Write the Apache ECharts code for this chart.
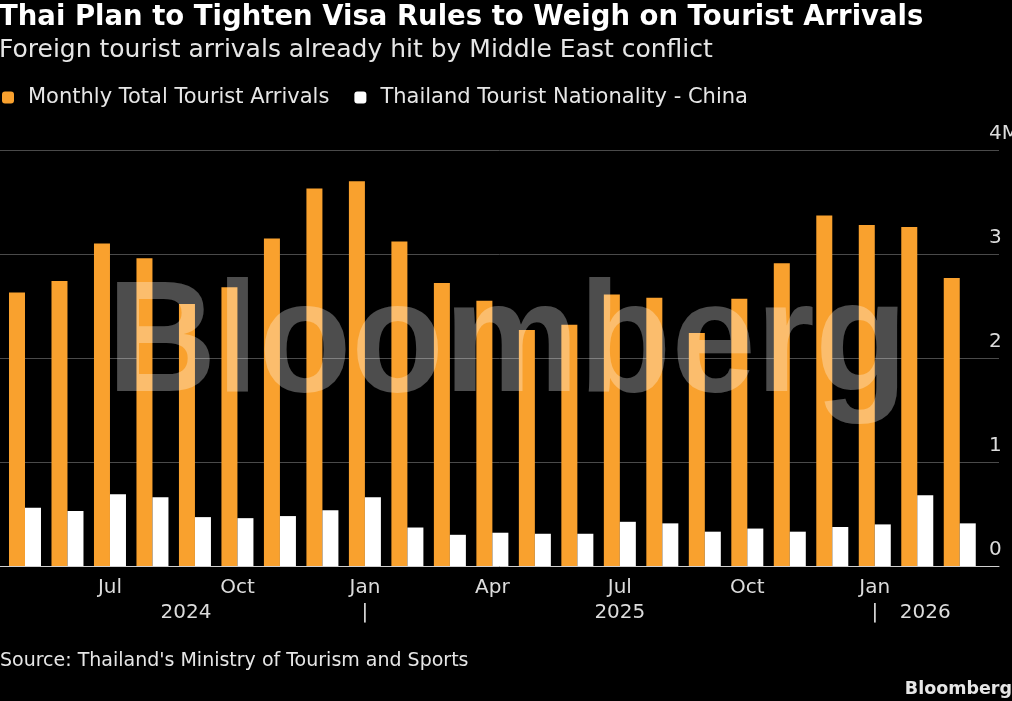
<!DOCTYPE html>
<html>
<head>
<meta charset="utf-8">
<style>
html, body { margin: 0; padding: 0; background: #000; }
#chart { width: 1012px; height: 701px; }
</style>
<script src="https://cdn.jsdelivr.net/npm/echarts@6/dist/echarts.min.js"></script>
</head>
<body>
<div id="chart"></div>
<script>
var FONT = "'DejaVu Sans', 'Liberation Sans', sans-serif";

var months = ['May 2024', 'Jun 2024', 'Jul 2024', 'Aug 2024', 'Sep 2024', 'Oct 2024', 'Nov 2024', 'Dec 2024',
    'Jan 2025', 'Feb 2025', 'Mar 2025', 'Apr 2025', 'May 2025', 'Jun 2025', 'Jul 2025', 'Aug 2025',
    'Sep 2025', 'Oct 2025', 'Nov 2025', 'Dec 2025', 'Jan 2026', 'Feb 2026', 'Mar 2026'];

// millions of arrivals
var totalArrivals = [2.63, 2.74, 3.10, 2.96, 2.52, 2.68, 3.15, 3.63, 3.70, 3.12, 2.72, 2.55,
    2.27, 2.32, 2.61, 2.58, 2.24, 2.57, 2.91, 3.37, 3.28, 3.26, 2.77];
var chinaArrivals = [0.56, 0.53, 0.69, 0.66, 0.47, 0.46, 0.48, 0.535, 0.66, 0.37, 0.30, 0.32,
    0.31, 0.31, 0.425, 0.41, 0.33, 0.36, 0.33, 0.375, 0.40, 0.68, 0.41];

var monthTickLabels = ['', '', 'Jul', '', '', 'Oct', '', '', 'Jan', '', '', 'Apr',
    '', '', 'Jul', '', '', 'Oct', '', '', 'Jan', '', ''];
var yearTickLabels = ['', '', '', '', '2024', '', '', '', '|', '', '', '',
    '', '', '2025', '', '', '', '', '', '|', '2026', ''];
var yTickLabels = ['0', '1', '2', '3', '4M'];

var seriesNames = ['Monthly Total Tourist Arrivals', 'Thailand Tourist Nationality - China'];

var chart = echarts.init(document.getElementById('chart'));

var option = {
    backgroundColor: '#000',
    animation: false,
    title: {
        text: 'Thai Plan to Tighten Visa Rules to Weigh on Tourist Arrivals',
        subtext: 'Foreign tourist arrivals already hit by Middle East conflict',
        left: -1,
        top: 4,
        padding: 0,
        itemGap: 6,
        textStyle: { color: '#fff', fontSize: 27.5, fontWeight: 'bold', fontFamily: FONT },
        subtextStyle: { color: '#e6e6e6', fontSize: 25, fontFamily: FONT }
    },
    legend: {
        left: 2,
        top: 87,
        padding: 0,
        itemWidth: 12,
        itemHeight: 12,
        itemGap: 25,
        icon: 'roundRect',
        textStyle: { color: '#e6e6e6', fontSize: 21, fontFamily: FONT, padding: [0, 0, 0, 9] },
        data: seriesNames
    },
    grid: [
        { left: 3.75, right: 31, top: 150, bottom: 135, outerBoundsMode: 'none' },
        { left: 0, right: 13, top: 150, bottom: 135, outerBoundsMode: 'none' }
    ],
    xAxis: [{
        type: 'category',
        gridIndex: 0,
        data: months,
        axisLine: { show: false },
        axisTick: { alignWithLabel: true, interval: 0, length: 5, lineStyle: { color: '#d0d0d0' } },
        axisLabel: {
            interval: 0,
            margin: 12,
            color: '#dcdcdc',
            fontSize: 20,
            fontFamily: FONT,
            formatter: function(v, i) { return monthTickLabels[i]; }
        }
    }, {
        type: 'category',
        gridIndex: 0,
        position: 'bottom',
        data: months,
        axisLine: { show: false },
        axisTick: {
            alignWithLabel: true,
            length: 9,
            lineStyle: { color: '#d0d0d0' },
            interval: function(i) { return monthTickLabels[i] !== ''; }
        },
        axisLabel: {
            interval: 0,
            margin: 37,
            color: '#dcdcdc',
            fontSize: 20,
            fontFamily: FONT,
            formatter: function(v, i) {
                var t = yearTickLabels[i];
                if (t === '2024') return '{l|' + t + '}';
                if (t === '2026') return '{r|' + t + '}';
                return t;
            },
            rich: {
                l: { color: '#dcdcdc', fontSize: 20, fontFamily: FONT, padding: [0, 18, 0, 0] },
                r: { color: '#dcdcdc', fontSize: 20, fontFamily: FONT, padding: [0, 0, 0, 16] }
            }
        }
    }, {
        type: 'category',
        gridIndex: 1,
        data: months,
        axisLine: { show: true, lineStyle: { color: '#d0d0d0', width: 1 } },
        axisTick: { show: false },
        axisLabel: { show: false }
    }],
    yAxis: [{
        type: 'value',
        gridIndex: 0,
        min: 0,
        max: 4,
        interval: 1,
        show: false
    }, {
        type: 'value',
        gridIndex: 1,
        position: 'right',
        min: 0,
        max: 4,
        interval: 1,
        axisLine: { show: false },
        axisTick: { show: false },
        splitLine: { lineStyle: { color: '#4a4a4a', width: 1 } },
        axisLabel: {
            margin: -10,
            align: 'left',
            verticalAlign: 'bottom',
            padding: [0, 0, 6, 0],
            color: '#dcdcdc',
            fontSize: 20,
            fontFamily: FONT,
            formatter: function(v) { return yTickLabels[v]; }
        }
    }],
    series: [{
        name: seriesNames[0],
        type: 'bar',
        xAxisIndex: 0,
        yAxisIndex: 0,
        barWidth: 16,
        barGap: '0%',
        itemStyle: { color: '#f9a12e' },
        data: totalArrivals
    }, {
        name: seriesNames[1],
        type: 'bar',
        xAxisIndex: 0,
        yAxisIndex: 0,
        barWidth: 16,
        barGap: '0%',
        itemStyle: { color: '#ffffff' },
        data: chinaArrivals
    }],
    graphic: [{
        type: 'text',
        x: 107,
        y: 347,
        scaleX: 0.96,
        z: 100,
        silent: true,
        style: {
            text: 'Bloomberg',
            font: 'bold 158px "Liberation Sans", Arial, sans-serif',
            fill: 'rgba(255,255,255,0.3)',
            verticalAlign: 'middle'
        }
    }, {
        type: 'text',
        left: 0,
        top: 652,
        style: { text: "Source: Thailand's Ministry of Tourism and Sports", fill: '#e6e6e6', font: '19px ' + FONT }
    }, {
        type: 'text',
        right: 0,
        top: 680,
        style: { text: 'Bloomberg', fill: '#e6e6e6', font: 'bold 17.5px ' + FONT }
    }]
};

chart.setOption(option);
</script>
</body>
</html>
